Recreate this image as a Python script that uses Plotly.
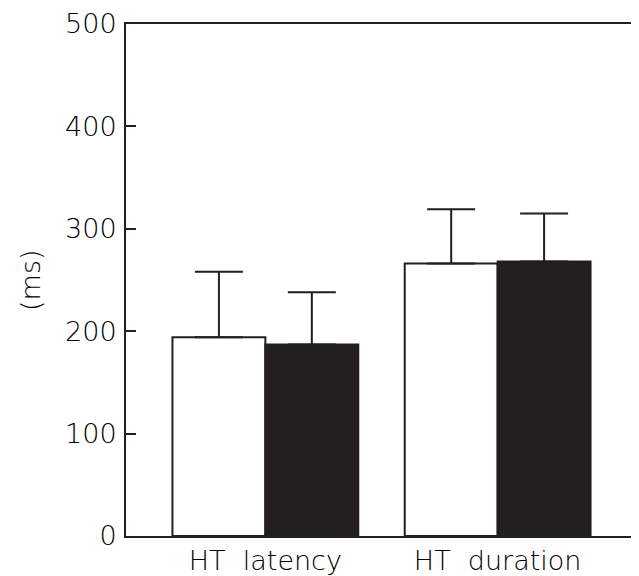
import plotly.graph_objects as go

categories = ["HT  latency", "HT  duration"]
group_a = [194, 187]          # open bars
group_a_err = [64, 51]        # upward SD
group_b = [266, 268]          # filled bars
group_b_err = [53, 47]
y_ticks = [0, 100, 200, 300, 400, 500]

INK = "#231f20"
FONT = dict(family="DejaVu Sans, sans-serif", size=27, color="#000000", weight=300)

fig = go.Figure()
fig.add_trace(go.Bar(
    x=categories, y=[group_a[0], group_b[0]],
    error_y=dict(type="data", symmetric=False, array=[group_a_err[0], group_b_err[0]],
                 arrayminus=[0, 0], width=24, thickness=2, color=INK),
    marker=dict(color="white", line=dict(color=INK, width=2)),
    showlegend=False,
))
fig.add_trace(go.Bar(
    x=categories, y=[group_a[1], group_b[1]],
    error_y=dict(type="data", symmetric=False, array=[group_a_err[1], group_b_err[1]],
                 arrayminus=[0, 0], width=24, thickness=2, color=INK),
    marker=dict(color=INK, line=dict(color=INK, width=2)),
    showlegend=False,
))

# page body has an 8px default margin; compensate so the figure fills 639x576
fig.update_layout(
    width=631, height=568,
    margin=dict(l=118, r=2, t=16, b=40),
    paper_bgcolor="white", plot_bgcolor="white",
    barmode="group", bargap=0.2, bargroupgap=0,
    font=FONT,
    xaxis=dict(type="category", range=[-0.6, 1.6], showline=True, mirror=True,
               linecolor=INK, linewidth=2, ticks="", showgrid=False, zeroline=False,
               automargin=False, ticklabelstandoff=0),
    yaxis=dict(range=[0, 500], tickvals=y_ticks, ticks="inside", ticklen=10,
               tickwidth=2, tickcolor=INK, showline=True, mirror=True,
               linecolor=INK, linewidth=2, showgrid=False, zeroline=False,
               ticklabelstandoff=2, automargin=False),
    annotations=[dict(text="(ms)", xref="paper", yref="paper", x=-0.188, y=0.5,
                      showarrow=False, textangle=-90, font=FONT,
                      xanchor="center", yanchor="middle")],
)

fig.write_html("out.html")
